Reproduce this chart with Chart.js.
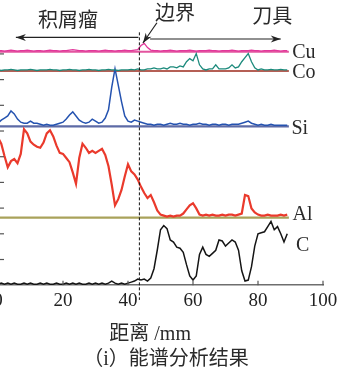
<!DOCTYPE html>
<html>
<head>
<meta charset="utf-8">
<script src="https://cdn.jsdelivr.net/npm/chart.js@4.4.1/dist/chart.umd.min.js"></script>
<style>
  html, body { margin: 0; padding: 0; background: #fff; overflow: hidden; }
  #wrap { position: absolute; left: -30px; top: 0; width: 390px; height: 368px; }
</style>
</head>
<body>
<div id="wrap"><canvas id="c" width="390" height="368"></canvas></div>
<script>
// distance along the sample, mm
const distance = [
  0,1,2,3,4,5,6,7,8,9, 10,11,12,13,14,15,16,17,18,19,
  20,21,22,23,24,25,26,27,28,29, 30,31,32,33,34,35,36,37,38,39,
  40,41,42,43,44,45,46,47,48,49, 50,51,52,53,54,55,56,57,58,59,
  60,61,62,63,64,65,66,67,68,69, 70,71,72,73,74,75,76,77,78,79,
  80,81,82,83,84,85,86,87,88,89
];

// line-scan intensities (arb. units, above each element's own baseline)
const cuCounts = [
  1,1,0.5,1,1.5,1,0.5,1,1,1.5,  1,0.5,1,1,0.5,1,1.5,1,1,0.5,
  1,1,1.5,2,1.5,1,1,0.5,1,1,    1,0.5,1,1.5,1,1,0.5,1,1,1.5,
  1,1,1.5,2,6,8,4,1.5,1,1,      0.5,1,1,1.5,1,0.5,1,1,1,1.5,
  1,0.5,1,1,1,1.5,1,1,0.5,1,    1,1,1.5,1,0.5,1,1,1,1.5,1,
  1,0.5,1,1,1,1.5,1,0.5,1,1
];
const coCounts = [
  1,0.5,1,1,1.5,1,0.5,1,1,1,    1.5,1,0.5,1,1,1,1.5,1,1,0.5,
  1,1,1.5,1,1,0.5,1,1,1.5,1,    1,0.5,1,1,1.5,1,1,0.5,1,1,
  1,1.5,1,2,1,1,2,2,3,2,        2,3,2,4,4,3,5,4,9,12,
  10,17,6,2,1,2,2,6,2,2,        2,3,6,3,4,9,13,17,9,3,
  1,2,1,1,1.5,1,1,1.5,1,1
];
const siCounts = [
  3,6,8,10,15,12,7,4,3,3,       5,3,3,2,1,2,1,1,2,3,
  4,7,11,14,10,6,4,3,4,7,       5,3,4,8,16,38,56,40,24,10,
  5,4,6,5,4,3,2,2,1,2,          2,1,2,3,2,2,3,2,2,1,
  2,2,3,2,2,1,2,2,1,2,          2,1,2,2,2,3,4,5,3,2,
  1,2,1,1,2,1,1,1,1,1
];
const alCounts = [
  78,72,60,49,55,57,53,62,86,82,  74,71,69,68,73,82,85,79,70,63,
  62,58,54,44,33,58,72,68,63,65,  63,65,67,61,50,32,12,18,27,40,
  52,45,42,37,30,24,19,22,15,7,   3,2,1,2,1,2,2,4,8,12,
  14,9,3,2,3,2,3,2,2,3,           2,3,3,2,3,4,22,21,9,5,
  3,2,2,3,2,2,2,3,2,3
];
const cCounts = [
  1,2,1,2,1,2,1,1,2,1,          2,1,1,2,1,2,1,1,2,1,
  1,2,1,2,1,2,1,1,2,1,          2,1,2,1,2,4,2,1,2,1,
  2,3,4,6,5,6,4,7,16,34,        54,58,55,44,42,37,36,32,20,9,
  5,9,30,37,30,28,31,34,44,43,  38,41,44,42,34,14,4,5,18,38,
  50,51,52,57,62,54,57,50,42,50
];

const elementNames = ['Cu', 'Co', 'Si', 'Al', 'C'];
const xTickValues = [0, 20, 40, 60, 80, 100];
const yTickMarks = [25, 50, 75, 100, 125, 150, 175, 200, 225];
const boundaryMm = 43.5;
const scanEnd = 89.5;

// vertical offsets of the stacked traces
const offCu = 227.2, offCo = 208.4, offSi = 154.6, offAl = 65.7, offC = 0;

function shifted(vals, off) {
  return vals.map((v, i) => ({ x: distance[i], y: off + v }));
}
function baseLine(off) {
  return [{ x: 0, y: off }, { x: scanEnd, y: off }];
}

const serif = '"Liberation Serif", "Noto Sans CJK SC", serif';
const cjk = '"Liberation Serif", "Noto Sans CJK SC", sans-serif';

function trace(label, vals, off, color, w) {
  return { label, data: shifted(vals, off), borderColor: color, borderWidth: w,
           pointRadius: 0, tension: 0, order: 1 };
}
function base(label, off, color, w) {
  return { label, data: baseLine(off), borderColor: color, borderWidth: w,
           pointRadius: 0, tension: 0, order: 2 };
}

function arrow(ctx, x1, y1, x2, y2) {
  ctx.beginPath();
  ctx.moveTo(x1, y1);
  ctx.lineTo(x2, y2);
  ctx.stroke();
  const a = Math.atan2(y2 - y1, x2 - x1);
  const len = 10, hw = 3.5;
  ctx.beginPath();
  ctx.moveTo(x2, y2);
  ctx.lineTo(x2 - len * Math.cos(a) + hw * Math.sin(a), y2 - len * Math.sin(a) - hw * Math.cos(a));
  ctx.lineTo(x2 - 0.7 * len * Math.cos(a), y2 - 0.7 * len * Math.sin(a));
  ctx.lineTo(x2 - len * Math.cos(a) - hw * Math.sin(a), y2 - len * Math.sin(a) + hw * Math.cos(a));
  ctx.closePath();
  ctx.fill();
}

const decor = {
  id: 'decor',
  afterDatasetsDraw(chart) {
    const { ctx, chartArea } = chart;
    const xs = chart.scales.x, ys = chart.scales.y;
    const X = v => xs.getPixelForValue(v);
    const Y = v => ys.getPixelForValue(v);
    ctx.save();

    // inward tick marks
    ctx.strokeStyle = '#555';
    ctx.lineWidth = 1.2;
    yTickMarks.forEach(v => {
      ctx.beginPath();
      ctx.moveTo(chartArea.left, Y(v));
      ctx.lineTo(chartArea.left + 6, Y(v));
      ctx.stroke();
    });
    xTickValues.slice(1).forEach(v => {
      ctx.beginPath();
      ctx.moveTo(X(v), chartArea.bottom);
      ctx.lineTo(X(v), chartArea.bottom - 4.5);
      ctx.stroke();
    });

    // boundary line
    ctx.strokeStyle = '#111';
    ctx.lineWidth = 1;
    ctx.setLineDash([3, 2]);
    ctx.beginPath();
    ctx.moveTo(X(boundaryMm), Y(246));
    ctx.lineTo(X(boundaryMm), Y(-14.3));
    ctx.stroke();
    ctx.setLineDash([]);

    // arrows
    ctx.strokeStyle = '#222';
    ctx.fillStyle = '#222';
    ctx.lineWidth = 1.2;
    arrow(ctx, X(43.2), Y(241), X(5.5), Y(241));
    arrow(ctx, X(46.8), Y(239.5), X(87), Y(239.5));
    arrow(ctx, X(48.9), Y(255.3), X(44.6), Y(235.6));

    // annotations
    ctx.fillStyle = '#2a2a2a';
    ctx.textBaseline = 'middle';
    ctx.textAlign = 'left';
    ctx.font = '20px ' + cjk;
    ctx.fillText('积屑瘤', X(12.3), Y(256.3));
    ctx.fillText('边界', X(48.3), Y(263.2));
    ctx.fillText('刀具', X(78.2), Y(260.2));

    // element names
    ctx.font = '20px ' + serif;
    const labelX = [90.5, 90.5, 90.3, 90.6, 91.7];
    const labelY = [226.4, 206.4, 152.1, 68.1, 38.5];
    elementNames.forEach((n, i) => ctx.fillText(n, X(labelX[i]), Y(labelY[i])));

    // axis title and caption
    ctx.textAlign = 'center';
    ctx.font = '20px ' + cjk;
    ctx.fillText('距离 /mm', X(46.8), Y(-47.9));
    ctx.fillText('（i）能谱分析结果', X(51.7), Y(-72.6));
    ctx.restore();
  }
};

new Chart(document.getElementById('c').getContext('2d'), {
  type: 'line',
  data: {
    datasets: [
      base('Cu base', offCu, '#e3559f', 2),
      base('Co base', offCo, '#9c2a1c', 1.6),
      base('Si base', offSi, '#5d6aa6', 2.2),
      base('Al base', offAl, '#a9a25a', 2.2),
      trace('Cu', cuCounts, offCu, '#e2379b', 1.3),
      trace('Co', coCounts, offCo, '#1c8a7c', 1.3),
      trace('Si', siCounts, offSi, '#2553b0', 1.5),
      trace('Al', alCounts, offAl, '#ea3a2c', 2.2),
      trace('C', cCounts, offC, '#151515', 1.5)
    ]
  },
  options: {
    responsive: false,
    devicePixelRatio: 1,
    animation: false,
    layout: { padding: { left: 28, right: 37, top: 38.5, bottom: 51 } },
    scales: {
      x: {
        type: 'linear',
        position: 'bottom',
        min: 0,
        max: 100,
        grid: { display: false, drawTicks: false },
        border: { display: true, color: '#6e6e6e', width: 1.6 },
        ticks: { stepSize: 20, padding: 4.5, maxRotation: 0, color: '#222',
                 font: { family: serif, size: 19 } }
      },
      y: { type: 'linear', min: 0, max: 240, display: false }
    },
    plugins: { legend: { display: false }, tooltip: { enabled: false } }
  },
  plugins: [decor]
});
</script>
</body>
</html>
